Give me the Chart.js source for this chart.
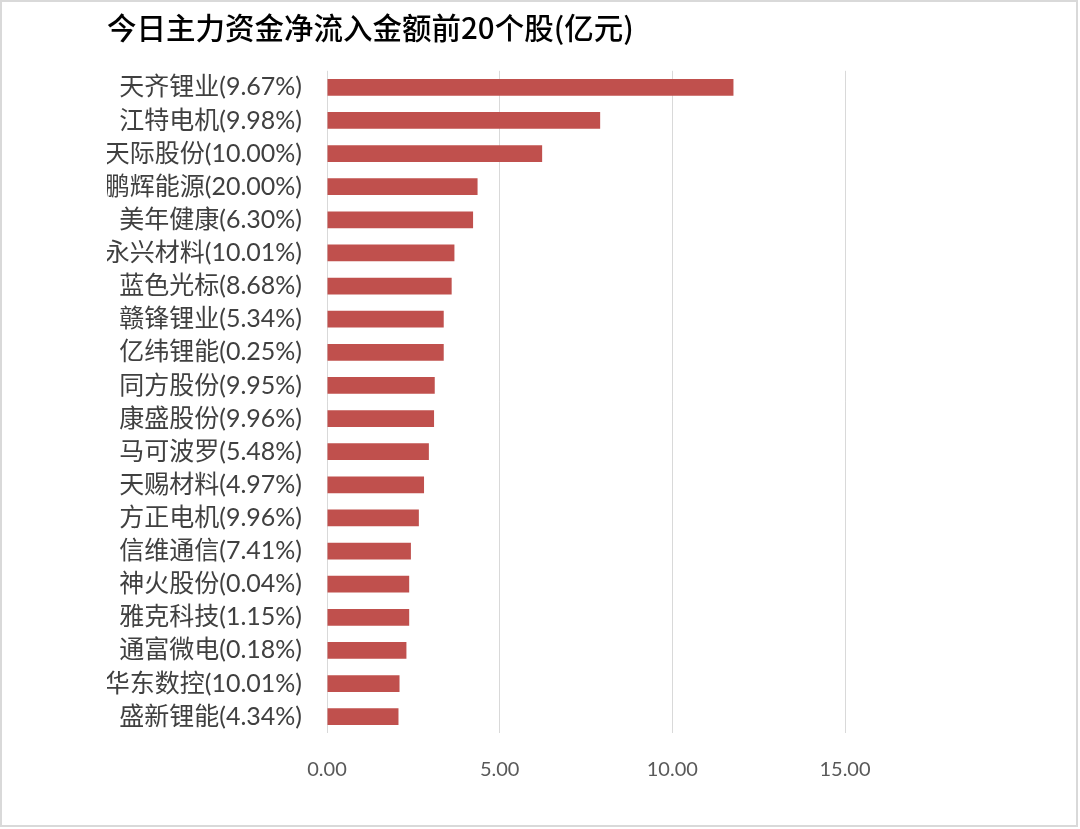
<!DOCTYPE html>
<html>
<head>
<meta charset="utf-8">
<script src="https://cdn.jsdelivr.net/npm/chart.js@4/dist/chart.umd.min.js"></script>
<style>
  html, body { margin: 0; padding: 0; background: #ffffff; }
  #wrap { width: 1080px; height: 829px; position: relative; }
</style>
</head>
<body>
<div id="wrap"><canvas id="c" width="1080" height="829"></canvas></div>
<script>
const chartTitle = '今日主力资金净流入金额前20个股(亿元)';
const stocks = ['天齐锂业','江特电机','天际股份','鹏辉能源','美年健康','永兴材料','蓝色光标','赣锋锂业','亿纬锂能','同方股份',
                '康盛股份','马可波罗','天赐材料','方正电机','信维通信','神火股份','雅克科技','通富微电','华东数控','盛新锂能'];
const changes = ['9.67%','9.98%','10.00%','20.00%','6.30%','10.01%','8.68%','5.34%','0.25%','9.95%',
                 '9.96%','5.48%','4.97%','9.96%','7.41%','0.04%','1.15%','0.18%','10.01%','4.34%'];
const inflows = [11.77, 7.91, 6.23, 4.36, 4.23, 3.69, 3.61, 3.38, 3.38, 3.12,
                 3.10, 2.95, 2.81, 2.66, 2.43, 2.38, 2.38, 2.30, 2.10, 2.07];
const xTicks = [0, 5, 10, 15];

const labels = stocks.map((s, i) => s + '(' + changes[i] + ')');

const borderPlugin = {
  id: 'frame',
  afterDraw(chart) {
    const ctx = chart.ctx;
    ctx.save();
    ctx.strokeStyle = '#d9d9d9';
    ctx.lineWidth = 2;
    ctx.strokeRect(1, 1, 1076, 825);
    ctx.restore();
  }
};

new Chart(document.getElementById('c'), {
  type: 'bar',
  data: {
    labels: labels,
    datasets: [{
      data: inflows,
      backgroundColor: '#C0504D',
      borderWidth: 0,
      barPercentage: 0.505,
      categoryPercentage: 1.0
    }]
  },
  options: {
    indexAxis: 'y',
    responsive: false,
    animation: false,
    devicePixelRatio: 1,
    layout: { padding: { left: 107, right: 235, top: 0, bottom: 23 } },
    plugins: {
      legend: { display: false },
      tooltip: { enabled: false },
      title: {
        display: true,
        text: chartTitle,
        align: 'start',
        color: '#000000',
        font: { family: "'Noto Sans CJK SC', sans-serif", size: 29.5, weight: '500' },
        padding: { top: 10.3, bottom: 25.1 }
      }
    },
    scales: {
      x: {
        min: 0,
        max: 15,
        afterBuildTicks(axis) { axis.ticks = xTicks.map(v => ({ value: v })); },
        ticks: {
          callback: v => Number(v).toFixed(2),
          color: '#595959',
          font: { family: "Lato, 'Noto Sans CJK SC', sans-serif", size: 20 },
          padding: 24.4,
          maxRotation: 0
        },
        grid: { color: '#d9d9d9', lineWidth: 1, drawTicks: false },
        border: { display: false }
      },
      y: {
        afterFit(axis) { axis.width = 220; axis.paddingTop = 0; axis.paddingBottom = 0; },
        ticks: {
          color: '#404040',
          font: { family: "Lato, 'Noto Sans CJK SC', sans-serif", size: 25 },
          padding: 25,
          autoSkip: false
        },
        grid: { display: false, drawTicks: false },
        border: { display: false }
      }
    }
  },
  plugins: [borderPlugin]
});
</script>
</body>
</html>
